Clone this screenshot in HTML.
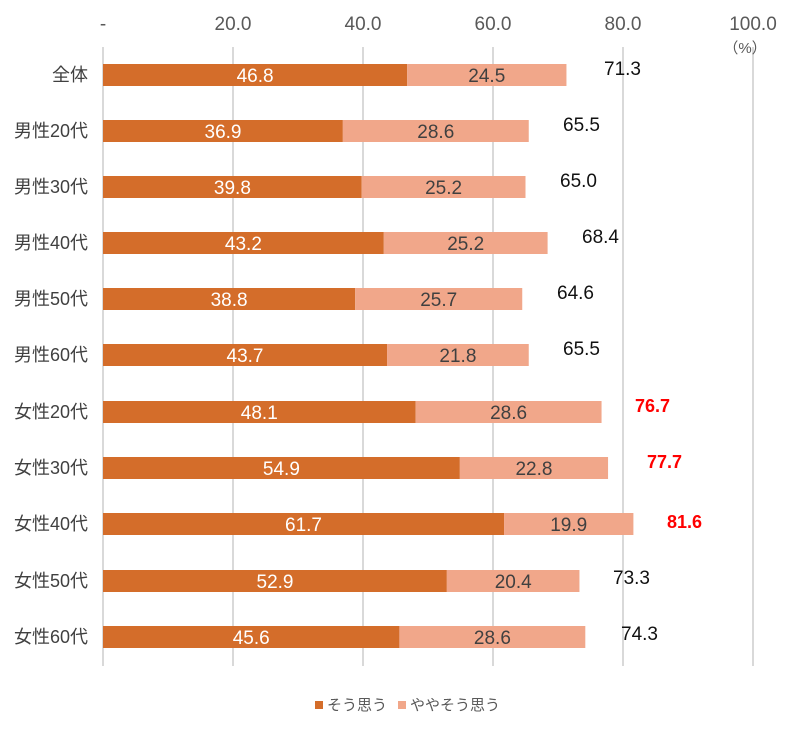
<!DOCTYPE html>
<html><head><meta charset="utf-8"><style>
body{margin:0;background:#fff}
svg{display:block;font-family:"Liberation Sans","Noto Sans CJK JP",sans-serif}
.t{font-size:19px;fill:#595959}
.w{font-size:19px;fill:#fff;text-anchor:middle}
.l{font-size:19px;fill:#404040;text-anchor:middle}
.c{font-size:18px;fill:#404040;text-anchor:end}
.s{font-size:19px;fill:#111}
.r{font-size:18px;fill:#ff0000;font-weight:bold}
.a{fill:#D46D2A}.b{fill:#F1A78A}
</style></head><body>
<svg width="800" height="733" viewBox="0 0 800 733">
<g stroke="#d9d9d9" stroke-width="2">
<line x1="103" y1="47" x2="103" y2="666"/><line x1="233" y1="47" x2="233" y2="666"/><line x1="363" y1="47" x2="363" y2="666"/><line x1="493" y1="47" x2="493" y2="666"/><line x1="623" y1="47" x2="623" y2="666"/><line x1="753" y1="47" x2="753" y2="666"/>
</g>
<g class="t" text-anchor="middle">
<text x="103" y="30">-</text><text x="233" y="30">20.0</text><text x="363" y="30">40.0</text><text x="493" y="30">60.0</text><text x="623" y="30">80.0</text><text x="753" y="30">100.0</text>
<text x="745" y="53" style="font-size:15px">（%）</text>
</g>
<g class="c">
<text x="88" y="81">全体</text><text x="88" y="137">男性20代</text><text x="88" y="193">男性30代</text><text x="88" y="249">男性40代</text><text x="88" y="305">男性50代</text><text x="88" y="361">男性60代</text><text x="88" y="418">女性20代</text><text x="88" y="474">女性30代</text><text x="88" y="530">女性40代</text><text x="88" y="587">女性50代</text><text x="88" y="643">女性60代</text>
</g>
<rect class="a" x="103" y="64" width="304.2" height="22"/><rect class="b" x="407.2" y="64" width="159.25" height="22"/>
<rect class="a" x="103" y="120" width="239.85" height="22"/><rect class="b" x="342.85" y="120" width="185.9" height="22"/>
<rect class="a" x="103" y="176" width="258.7" height="22"/><rect class="b" x="361.7" y="176" width="163.8" height="22"/>
<rect class="a" x="103" y="232" width="280.8" height="22"/><rect class="b" x="383.8" y="232" width="163.8" height="22"/>
<rect class="a" x="103" y="288" width="252.2" height="22"/><rect class="b" x="355.2" y="288" width="167.05" height="22"/>
<rect class="a" x="103" y="344" width="284.05" height="22"/><rect class="b" x="387.05" y="344" width="141.7" height="22"/>
<rect class="a" x="103" y="401" width="312.65" height="22"/><rect class="b" x="415.65" y="401" width="185.9" height="22"/>
<rect class="a" x="103" y="457" width="356.85" height="22"/><rect class="b" x="459.85" y="457" width="148.2" height="22"/>
<rect class="a" x="103" y="513" width="401.05" height="22"/><rect class="b" x="504.05" y="513" width="129.35" height="22"/>
<rect class="a" x="103" y="570" width="343.85" height="22"/><rect class="b" x="446.85" y="570" width="132.6" height="22"/>
<rect class="a" x="103" y="626" width="296.4" height="22"/><rect class="b" x="399.4" y="626" width="185.9" height="22"/>
<g class="w">
<text x="255.1" y="82">46.8</text><text x="223" y="138">36.9</text><text x="232.4" y="194">39.8</text><text x="243.4" y="250">43.2</text><text x="229.1" y="306">38.8</text><text x="245" y="362">43.7</text><text x="259.3" y="419">48.1</text><text x="281.4" y="475">54.9</text><text x="303.5" y="531">61.7</text><text x="275" y="588">52.9</text><text x="251.2" y="644">45.6</text>
</g>
<g class="l">
<text x="486.8" y="82">24.5</text><text x="435.8" y="138">28.6</text><text x="443.6" y="194">25.2</text><text x="465.7" y="250">25.2</text><text x="438.7" y="306">25.7</text><text x="457.9" y="362">21.8</text><text x="508.6" y="419">28.6</text><text x="533.95" y="475">22.8</text><text x="568.7" y="531">19.9</text><text x="513.2" y="588">20.4</text><text x="492.4" y="644">28.6</text>
</g>
<text class="s" x="604" y="75">71.3</text>
<text class="s" x="563" y="131">65.5</text>
<text class="s" x="560" y="187">65.0</text>
<text class="s" x="582" y="243">68.4</text>
<text class="s" x="557" y="299">64.6</text>
<text class="s" x="563" y="355">65.5</text>
<text class="r" x="635" y="412">76.7</text>
<text class="r" x="647" y="468">77.7</text>
<text class="r" x="667" y="528">81.6</text>
<text class="s" x="613" y="584">73.3</text>
<text class="s" x="621" y="640">74.3</text>
<rect class="a" x="315" y="701" width="8" height="8"/>
<text x="327" y="710" style="font-size:15px;fill:#595959">そう思う</text>
<rect class="b" x="398" y="701" width="8" height="8"/>
<text x="410" y="710" style="font-size:15px;fill:#595959">ややそう思う</text>
</svg>
</body></html>
